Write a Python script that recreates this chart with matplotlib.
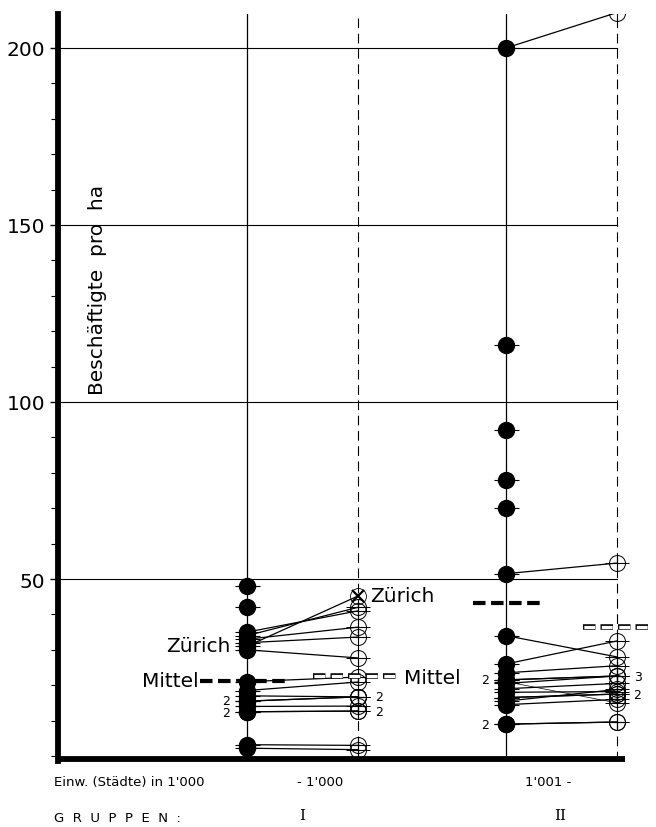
import matplotlib.pyplot as plt
from matplotlib.ticker import MultipleLocator

plt.rcParams['font.family'] = ['DejaVu Sans']
plt.rcParams['lines.scale_dashes'] = False

# ---  data  ---
# x positions of the four columns (group I solid / open, group II solid / open)
x_cols = [1.0, 2.0, 3.333, 4.333]

# group I : solid = first survey, open = second survey (None = no value)
I_solid = [48, 42, 35, 34, 33, 32, 30, 21, 18.5, 17, 15.5, 15.5, 14, 12.5, 12.5, 3.2, 2.2]
I_open = [None, None, 41, 42, 36.4, 33.6, 27.7, 22.3, 20.9, 16.7, 16.7, 16.7, 14.1, 12.7, 12.7, 3.0, 1.8]
zurich_I = [31, 45.2]

# group II
II_solid = [200, 116, 92, 78, 70, 51.5, 34, 26, 23.5, 21.5, 21.5, 20.5, 19, 18, 16.5, 16.5, 15.5, 14.5, 9, 9]
II_open = [210, None, None, None, None, 54.5, 28, 32.5, 25.5, 22.6, 22.6, 22.6, 20.5, 18.2, 17.5, 17.5, 18.8, 16, 9.6, 9.6]
II_thin = [21, 15]   # the one line that falls

mean_I = [21.2, 22.6]
mean_II = [43.2, 36.4]

# (column, value, label)
count_labels = [(0, 15.8, '2'), (0, 12.2, '2'), (1, 16.9, '2'), (1, 12.5, '2'),
                (2, 21.5, '2'), (2, 9, '2'), (3, 22.6, '3'), (3, 17.5, '2')]

yticks_major = [50, 100, 150, 200]

# ---  figure  ---
fig = plt.figure(figsize=(6.56, 8.28), dpi=100)
ax = fig.add_axes([58/656, 66/828, 598/656, 747/828])
ax.set_xlim(-0.7027, 4.6847)
ax.set_ylim(-1.41, 209.6)

for s in ['top', 'right', 'bottom']:
    ax.spines[s].set_visible(False)
ax.spines['left'].set_linewidth(4.2)
ax.set_xticks([])
ax.set_yticks(yticks_major)
ax.yaxis.set_minor_locator(MultipleLocator(10))
ax.tick_params(axis='y', which='major', length=6, width=1, labelsize=14.5, pad=3)
ax.tick_params(axis='y', which='minor', length=5, width=0.8)

# grid
for v in yticks_major:
    ax.plot([-0.7027, x_cols[3]], [v, v], color='black', lw=0.8, zorder=1)
ax.axvline(x_cols[0], color='black', lw=0.9, zorder=1)
ax.axvline(x_cols[2], color='black', lw=0.9, zorder=1)
ax.axvline(x_cols[1], color='black', lw=0.8, ls=(0, (7, 4)), zorder=1)
ax.axvline(x_cols[3], color='black', lw=0.8, ls=(0, (7, 4)), zorder=1)

# thick bottom line
ax.plot([-0.7027, 4.405], [-0.8, -0.8], color='black', lw=4.2, solid_capstyle='butt',
        clip_on=False, zorder=5)


def draw_solid(x, v):
    ax.plot(x, v, 'o', ms=11.5, color='black', zorder=4)
    ax.plot(x, v, '_', ms=18, mew=0.8, color='black', zorder=4)


def draw_open(x, v):
    ax.plot(x, v, 'o', ms=11.5, mfc='none', mec='black', mew=0.7, zorder=4)
    ax.plot(x, v, '+', ms=12, mew=0.8, color='black', zorder=4)
    ax.plot(x, v, '_', ms=17, mew=0.7, color='black', zorder=4)


def draw_group(xa, xb, solid, opn):
    for a, b in zip(solid, opn):
        if b is not None:
            ax.plot([xa, xb], [a, b], color='black', lw=0.9, zorder=3)
            draw_open(xb, b)
        draw_solid(xa, a)


draw_group(x_cols[0], x_cols[1], I_solid, I_open)
draw_group(x_cols[2], x_cols[3], II_solid, II_open)

# Zürich
ax.plot([x_cols[0], x_cols[1]], zurich_I, color='black', lw=0.9, zorder=3)
draw_solid(x_cols[0], zurich_I[0])
ax.plot(x_cols[1], zurich_I[1], 'x', ms=9, mew=1.6, color='black', zorder=4)
ax.plot(x_cols[1], zurich_I[1], 'o', ms=11.5, mfc='none', mec='black', mew=0.6, zorder=4)

# falling thin line in group II
ax.plot([x_cols[2], x_cols[3]], II_thin, color='black', lw=0.5, zorder=3)
draw_solid(x_cols[2], II_thin[0])
draw_open(x_cols[3], II_thin[1])


# mean lines
def solid_mean(x0, x1, v):
    ax.plot([x0, x1], [v, v], color='black', lw=3, ls=(0, (9, 4)),
            solid_capstyle='butt', dash_capstyle='butt', zorder=6, clip_on=False)


def open_mean(x0, x1, v):
    ax.plot([x0, x1], [v, v], color='black', lw=4, ls=(0, (9, 3.6)),
            dash_capstyle='butt', zorder=6, clip_on=False)
    ax.plot([x0, x1], [v, v], color='white', lw=2.3, ls=(12.0, (7.8, 4.8)),
            dash_capstyle='butt', zorder=7, clip_on=False)


solid_mean(0.577, 1.387, mean_I[0])
open_mean(1.595, 2.378, mean_I[1])
solid_mean(3.033, 3.636, mean_II[0])
open_mean(4.024, 4.654, mean_II[1])

# texts
ax.text(0.85, zurich_I[0] + 0.3, 'Zürich', ha='right', va='center', fontsize=14.5)
ax.text(0.56, mean_I[0], 'Mittel', ha='right', va='center', fontsize=14.5)
ax.text(2.108, zurich_I[1], 'Zürich', ha='left', va='center', fontsize=14.5)
ax.text(2.414, mean_I[1] - 0.3, 'Mittel', ha='left', va='center', fontsize=14.5)

for col, v, lab in count_labels:
    if col in (0, 2):
        ax.text(x_cols[col] - 0.15, v, lab, ha='right', va='center', fontsize=9)
    else:
        ax.text(x_cols[col] + 0.15, v, lab, ha='left', va='center', fontsize=9)

ax.text(-0.35, 132, 'Beschäftigte  pro  ha', rotation=90, ha='center', va='center',
        fontsize=14.5)

fig.text(54/656, 1 - 783/828, "Einw. (Städte) in 1'000", ha='left', va='center', fontsize=9.5)
fig.text(320/656, 1 - 783/828, "- 1'000", ha='center', va='center', fontsize=9.5)
fig.text(548/656, 1 - 783/828, "1'001 -", ha='center', va='center', fontsize=9.5)
fig.text(54/656, 1 - 819/828, "G  R  U  P  P  E  N  :", ha='left', va='center', fontsize=9.5)
fig.text(302/656, 1 - 816/828, "I", ha='center', va='center', fontsize=11, family='DejaVu Serif')
fig.text(560/656, 1 - 816/828, "II", ha='center', va='center', fontsize=11, family='DejaVu Serif')

plt.savefig('out.png', dpi=100)
